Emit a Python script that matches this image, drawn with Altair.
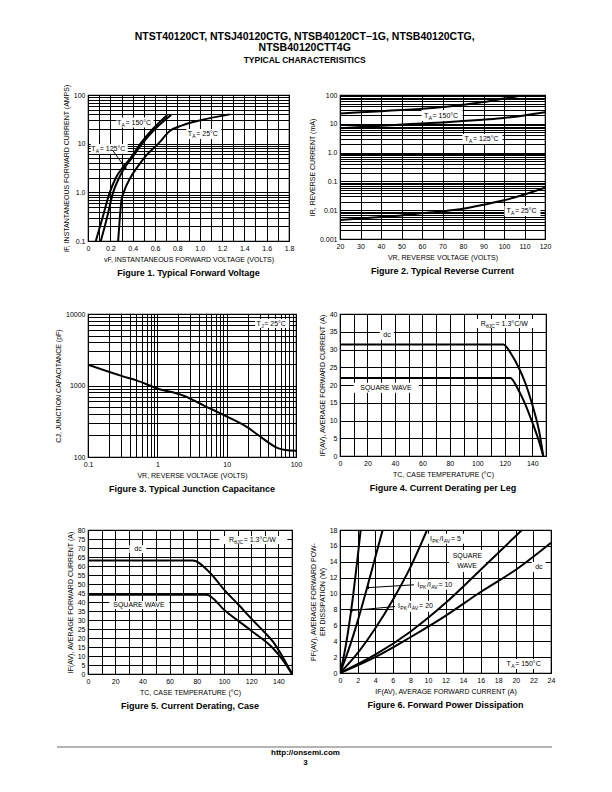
import altair as alt
import pandas as pd

FONT = "Liberation Sans"

# ---------------- Figure 1 data ----------------
f1_v150 = [0.07, 0.13, 0.195, 0.25, 0.30, 0.38, 0.47, 0.58, 0.71]
f1_i150 = [0.1, 0.3, 1.0, 2.0, 3.0, 5.0, 10.0, 20.0, 39.0]
f1_v125 = [0.115, 0.17, 0.225, 0.28, 0.32, 0.39, 0.485, 0.60, 0.745]
f1_i125 = [0.1, 0.3, 1.0, 2.0, 3.0, 5.0, 10.0, 20.0, 39.0]
f1_v25 = [0.27, 0.285, 0.30, 0.32, 0.38, 0.45, 0.53, 0.63, 0.73, 0.85, 1.0, 1.27]
f1_i25 = [0.1, 0.3, 0.7, 1.0, 2.0, 3.5, 6.0, 10.0, 18.0, 24.0, 30.0, 40.0]

# ---------------- Figure 2 data ----------------
f2_v = [20, 30, 40, 50, 60, 70, 80, 90, 100, 110, 120]
f2_i150 = [23, 25, 27.5, 30, 33, 38, 46, 57, 75, 100, 130]
f2_i125 = [7.0, 7.8, 8.6, 9.4, 10.3, 11.2, 12.4, 14, 16, 19.5, 25]
f2_i25 = [0.0046, 0.0051, 0.0058, 0.0066, 0.0078, 0.0092, 0.0113, 0.0155, 0.022, 0.035, 0.06]

# ---------------- Figure 3 data ----------------
f3_v = [0.1, 0.32, 0.5, 1.0, 2.4, 4.8, 9.4, 20, 29, 56, 70, 100]
f3_c = [1950, 1340, 1180, 910, 720, 520, 380, 260, 200, 132, 125, 122]

# ---------------- Figure 4 data ----------------
f4_t_dc = [0, 119, 125, 130, 135, 140, 145, 148]
f4_i_dc = [31.4, 31.4, 28.5, 25, 20.5, 14.5, 7, 0]
f4_t_sq = [0, 124, 130, 135, 140, 145, 148]
f4_i_sq = [22, 22, 18.5, 14.5, 9.5, 4, 0]

# ---------------- Figure 5 data ----------------
f5_t_dc = [0, 77, 90, 101, 110, 121, 130, 136, 142, 150]
f5_i_dc = [63, 63, 56, 46, 39, 30, 23, 18, 11, 0]
f5_t_sq = [0, 87, 101, 121, 136, 143, 150]
f5_i_sq = [44, 44, 35, 23.5, 14.3, 8, 0]

# ---------------- Figure 6 data ----------------
f6_i20 = [0, 0.5, 1.0, 1.5, 2.0, 2.35]
f6_p20 = [0, 2.5, 5.8, 9.8, 14.5, 18]
f6_i10 = [0, 1, 2, 3, 4, 4.85]
f6_p10 = [0, 3, 6.5, 10.4, 14.5, 18]
f6_i5 = [0, 2, 4, 6, 8, 9.9]
f6_p5 = [0, 2.5, 5.6, 9.2, 13.3, 18]
f6_isq = [0, 4, 8, 12, 16, 20.7]
f6_psq = [0, 2.3, 5.2, 8.8, 13, 18]
f6_idc = [0, 4, 8, 12, 16, 20, 24]
f6_pdc = [0, 2, 4.5, 7.2, 10.2, 13, 16.4]

# ---------------- tick values / labels ----------------
f1_xticks = [round(i * 0.1, 1) for i in range(19)]
f1_ylabels = {0.1: "0.1", 1: "1.0", 10: "10", 100: "100"}
f2_xticks = list(range(20, 121, 10))
f2_ylabels = {0.001: "0.001", 0.01: "0.01", 0.1: "0.1", 1: "1.0", 10: "10", 100: "100"}
f3_xlabels = {0.1: "0.1", 1: "1", 10: "10", 100: "100"}
f3_ylabels = {100: "100", 1000: "1000", 10000: "10000"}
f45_xticks = list(range(0, 151, 10))
f4_yticks = list(range(0, 41, 5))
f5_yticks = list(range(0, 81, 5))
f6_xticks = list(range(0, 25, 2))
f6_yticks = list(range(0, 19, 2))

# approximate glyph advance widths (per 1000 em) for placing subscripts
CHAR_W = {" ": 278, "=": 584, "°": 400, "C": 722, "T": 611, "A": 667, "J": 500, "R": 722,
          "θ": 556, "P": 667, "K": 667, "I": 278, "V": 667, "/": 278, ".": 278, "W": 944,
          "S": 667, "Q": 778, "U": 722, "E": 667, "d": 500, "c": 500}
MAIN, SUB = 7, 5
SUB_GAP = 0.9


def text_w(s, size):
    return sum(CHAR_W.get(ch, 556) for ch in s) * size / 1000.0


def log_grid(lo_exp, hi_exp):
    vals = []
    for e in range(lo_exp, hi_exp):
        for k in range(1, 10):
            vals.append(float(f"{k}e{e}"))
    vals.append(float(f"1e{hi_exp}"))
    return vals


def label_expr(mapping):
    parts = [f"datum.value == {k} ? '{v}'" for k, v in mapping.items()]
    return " : ".join(parts) + " : ''"


def axis(values, expr, title, **kw):
    return alt.Axis(values=values, labelExpr=expr, title=title, grid=True, ticks=False,
                    domain=False, labelFlush=False, labelOverlap=False, **kw)


def curves_df(series):
    rows = []
    for name, xs, ys in series:
        for i, (a, b) in enumerate(zip(xs, ys)):
            rows.append({"s": name, "i": i, "x": a, "y": b})
    return pd.DataFrame(rows)


def rich_text_layers(X, Y, tx, ty, segs):
    """segs: list of (text, is_subscript); centred on (tx, ty)."""
    widths = [text_w(t, SUB if sub else MAIN) + (SUB_GAP if sub else 0) for t, sub in segs]
    off = -sum(widths) / 2.0
    out = []
    df = pd.DataFrame({"x": [tx], "y": [ty]})
    for (t, sub), w in zip(segs, widths):
        out.append(alt.Chart(df).mark_text(
            text=t, font=FONT, fontSize=SUB if sub else MAIN, align="left", baseline="middle",
            color="black", dx=off + (0.3 if sub else 0), dy=2.2 if sub else 0).encode(x=X, y=Y))
        off += w
    return out


def panel(X, Y, curves, boxes, texts, arrows, w, h, caption, interp="monotone"):
    layers = []
    for (bx, by, bw, bh) in boxes:
        layers.append(alt.Chart(pd.DataFrame({"x": [bx], "y": [by]})).mark_rect(
            color="white", width=bw, height=bh).encode(x=X, y=Y))
    layers.append(alt.Chart(curves_df(curves)).mark_line(
        color="black", strokeWidth=2, interpolate=interp, clip=True).encode(
        x=X, y=Y, detail="s:N", order="i:Q"))
    for (ax0, ay0, ax1, ay1, ang) in arrows:
        adf = pd.DataFrame({"x": [ax0], "y": [ay0], "x2": [ax1], "y2": [ay1]})
        layers.append(alt.Chart(adf).mark_rule(color="black", strokeWidth=1).encode(
            x=X, y=Y, x2="x2:Q", y2="y2:Q"))
        hdf = pd.DataFrame({"x": [ax1], "y": [ay1]})
        layers.append(alt.Chart(hdf).mark_point(
            shape="triangle-up", filled=True, color="black", opacity=1, size=14, angle=ang,
            strokeWidth=0).encode(x=X, y=Y))
    for (tx, ty, segs) in texts:
        layers.extend(rich_text_layers(X, Y, tx, ty, segs))
    return alt.layer(*layers).properties(
        width=w, height=h,
        title=alt.TitleParams(caption, orient="bottom", anchor="middle", fontSize=9,
                              fontWeight="bold", font=FONT, offset=7, color="black"))


def ta(temp):
    return [("T", False), ("A", True), (f" = {temp}°C", False)]


def ipk(ratio):
    return [("I", False), ("PK", True), ("/I", False), ("AV", True), (f" = {ratio}", False)]


RTH = [("R", False), ("θJC", True), (" = 1.3°C/W", False)]

# ---------------- Figure 1 ----------------
X1 = alt.X("x:Q", scale=alt.Scale(domain=[0, 1.8], nice=False),
           axis=axis(f1_xticks, "round(datum.value*10) % 2 == 0 ? (datum.value == 0 ? '0' : format(datum.value, '.1f')) : ''",
                     "vF, INSTANTANEOUS FORWARD VOLTAGE (VOLTS)"))
Y1 = alt.Y("y:Q", scale=alt.Scale(type="log", domain=[0.1, 100], nice=False),
           axis=axis(log_grid(-1, 2), label_expr(f1_ylabels), "iF, INSTANTANEOUS FORWARD CURRENT (AMPS)"))
fig1 = panel(X1, Y1,
             [("150", f1_v150, f1_i150), ("125", f1_v125, f1_i125), ("25", f1_v25, f1_i25)],
             [(0.421, 27.2, 37, 10), (1.037, 15.8, 35, 10), (0.19, 7.76, 37, 10)],
             [(0.421, 27.2, ta(150)), (1.037, 15.8, ta(25)), (0.19, 7.76, ta(125))],
             [(0.219, 7.4, 0.337, 3.12, 144)],
             201, 146, "Figure 1. Typical Forward Voltage")

# ---------------- Figure 2 ----------------
X2 = alt.X("x:Q", scale=alt.Scale(domain=[20, 120], nice=False),
           axis=axis(f2_xticks, "datum.label", "VR, REVERSE VOLTAGE (VOLTS)"))
Y2 = alt.Y("y:Q", scale=alt.Scale(type="log", domain=[0.001, 100], nice=False),
           axis=axis(log_grid(-3, 2), label_expr(f2_ylabels), "IR, REVERSE CURRENT (mA)"))
fig2 = panel(X2, Y2,
             [("150", f2_v, f2_i150), ("125", f2_v, f2_i125), ("25", f2_v, f2_i25)],
             [(69.8, 19.4, 41, 11), (89.5, 2.97, 40, 10), (109, 0.00937, 36, 10)],
             [(69.8, 19.4, ta(150)), (89.5, 2.97, ta(125)), (109, 0.00937, ta(25))],
             [], 205, 144, "Figure 2. Typical Reverse Current")

# ---------------- Figure 3 ----------------
X3 = alt.X("x:Q", scale=alt.Scale(type="log", domain=[0.1, 100], nice=False),
           axis=axis(log_grid(-1, 2), label_expr(f3_xlabels), "VR, REVERSE VOLTAGE (VOLTS)"))
Y3 = alt.Y("y:Q", scale=alt.Scale(type="log", domain=[100, 10000], nice=False),
           axis=axis(log_grid(2, 4), label_expr(f3_ylabels), "CJ, JUNCTION CAPACITANCE (pF)"))
fig3 = panel(X3, Y3, [("c", f3_v, f3_c)],
             [(45.4, 7360, 34, 9)],
             [(45.4, 7360, [("T", False), ("J", True), (" = 25°C", False)])], [],
             208, 143, "Figure 3. Typical Junction Capacitance")

# ---------------- Figure 4 ----------------
X4 = alt.X("x:Q", scale=alt.Scale(domain=[0, 150], nice=False),
           axis=axis(f45_xticks, "datum.value % 20 == 0 ? datum.label : ''", "TC, CASE TEMPERATURE (°C)"))
Y4 = alt.Y("y:Q", scale=alt.Scale(domain=[0, 40], nice=False),
           axis=axis(f4_yticks, "datum.label", "IF(AV), AVERAGE FORWARD CURRENT (A)"))
fig4 = panel(X4, Y4, [("dc", f4_t_dc, f4_i_dc), ("sq", f4_t_sq, f4_i_sq)],
             [(34.1, 34.1, 14, 10), (33.7, 19.2, 65, 10), (120.3, 37.3, 72, 9)],
             [(34.1, 34.1, [("dc", False)]), (33.7, 19.2, [("SQUARE WAVE", False)]),
              (120.3, 37.3, RTH)],
             [], 206, 142, "Figure 4. Current Derating per Leg")

# ---------------- Figure 5 ----------------
X5 = alt.X("x:Q", scale=alt.Scale(domain=[0, 150], nice=False),
           axis=axis(f45_xticks, "datum.value % 20 == 0 ? datum.label : ''", "TC, CASE TEMPERATURE (°C)"))
Y5 = alt.Y("y:Q", scale=alt.Scale(domain=[0, 80], nice=False),
           axis=axis(f5_yticks, "datum.label", "IF(AV), AVERAGE FORWARD CURRENT (A)"))
fig5 = panel(X5, Y5, [("dc", f5_t_dc, f5_i_dc), ("sq", f5_t_sq, f5_i_sq)],
             [(36.6, 69.4, 17, 8), (37.7, 38.3, 60, 8), (121.6, 74.4, 68, 8)],
             [(36.6, 69.4, [("dc", False)]), (37.7, 38.3, [("SQUARE WAVE", False)]),
              (121.6, 74.4, RTH)],
             [], 204, 144, "Figure 5. Current Derating, Case")

# ---------------- Figure 6 ----------------
X6 = alt.X("x:Q", scale=alt.Scale(domain=[0, 24], nice=False),
           axis=axis(f6_xticks, "datum.label", "IF(AV), AVERAGE FORWARD CURRENT (A)"))
Y6 = alt.Y("y:Q", scale=alt.Scale(domain=[0, 18], nice=False),
           axis=axis(f6_yticks, "datum.label", ["PF(AV), AVERAGE FORWARD POW-", "ER DISSIPATION (W)"]))
fig6 = panel(X6, Y6,
             [("20", f6_i20, f6_p20), ("10", f6_i10, f6_p10), ("5", f6_i5, f6_p5),
              ("sq", f6_isq, f6_psq), ("dc", f6_idc, f6_pdc)],
             [(12.1, 16.9, 41, 10), (14.5, 14.1, 37, 22), (22.6, 13.35, 14, 10),
              (10.9, 11.1, 45, 10), (8.7, 8.4, 45, 11), (21.0, 1.13, 46, 10)],
             [(12.1, 16.9, ipk(5)), (14.5, 14.7, [("SQUARE", False)]),
              (14.5, 13.5, [("WAVE", False)]), (22.6, 13.35, [("dc", False)]),
              (10.9, 11.1, ipk(10)), (8.7, 8.4, ipk(20)), (21.0, 1.13, ta(150))],
             [(8.42, 11.1, 3.11, 10.74, 267), (6.26, 8.37, 1.22, 7.85, 265)],
             211, 143, "Figure 6. Forward Power Dissipation")

# ---------------- footer ----------------
footer = alt.Chart(pd.DataFrame({"a": [0]}), view=alt.ViewBackground(stroke="transparent")).mark_rule(
    color="#b4b4b4", strokeWidth=2).encode(
    x=alt.value(-31), x2=alt.value(464), y=alt.value(0)).properties(
    width=1, height=1,
    title=alt.TitleParams(["http://onsemi.com", "3"], orient="bottom", anchor="middle", fontSize=8,
                          fontWeight="bold", font=FONT, offset=1, lineHeight=10, color="black",
                          dx=217))

chart = alt.concat(fig1, fig2, fig3, fig4, fig5, fig6, footer, columns=2,
                   spacing={"row": 73, "column": 44}, bounds="flush").properties(
    padding={"left": 45, "top": 23, "right": 5, "bottom": 5},
    title=alt.TitleParams(
        ["NTST40120CT, NTSJ40120CTG, NTSB40120CT\u22121G, NTSB40120CTG,", "NTSB40120CTT4G"],
        subtitle="TYPICAL CHARACTERISITICS", anchor="middle", fontSize=10.5, fontWeight="bold",
        font=FONT, lineHeight=11, subtitleFont=FONT, subtitleFontSize=8.5,
        subtitleFontWeight="bold", subtitleColor="black", subtitlePadding=3, offset=19,
        color="black")
).configure_axis(
    gridColor="black", gridWidth=1, gridOpacity=1,
    labelFont=FONT, labelFontSize=7, labelColor="black", labelPadding=3,
    titleFont=FONT, titleFontSize=7, titleFontWeight="normal", titleColor="black", titlePadding=4
).configure_view(stroke="black", strokeWidth=1.2)

chart.save("out.html", embed_options={"renderer": "svg", "actions": False})
